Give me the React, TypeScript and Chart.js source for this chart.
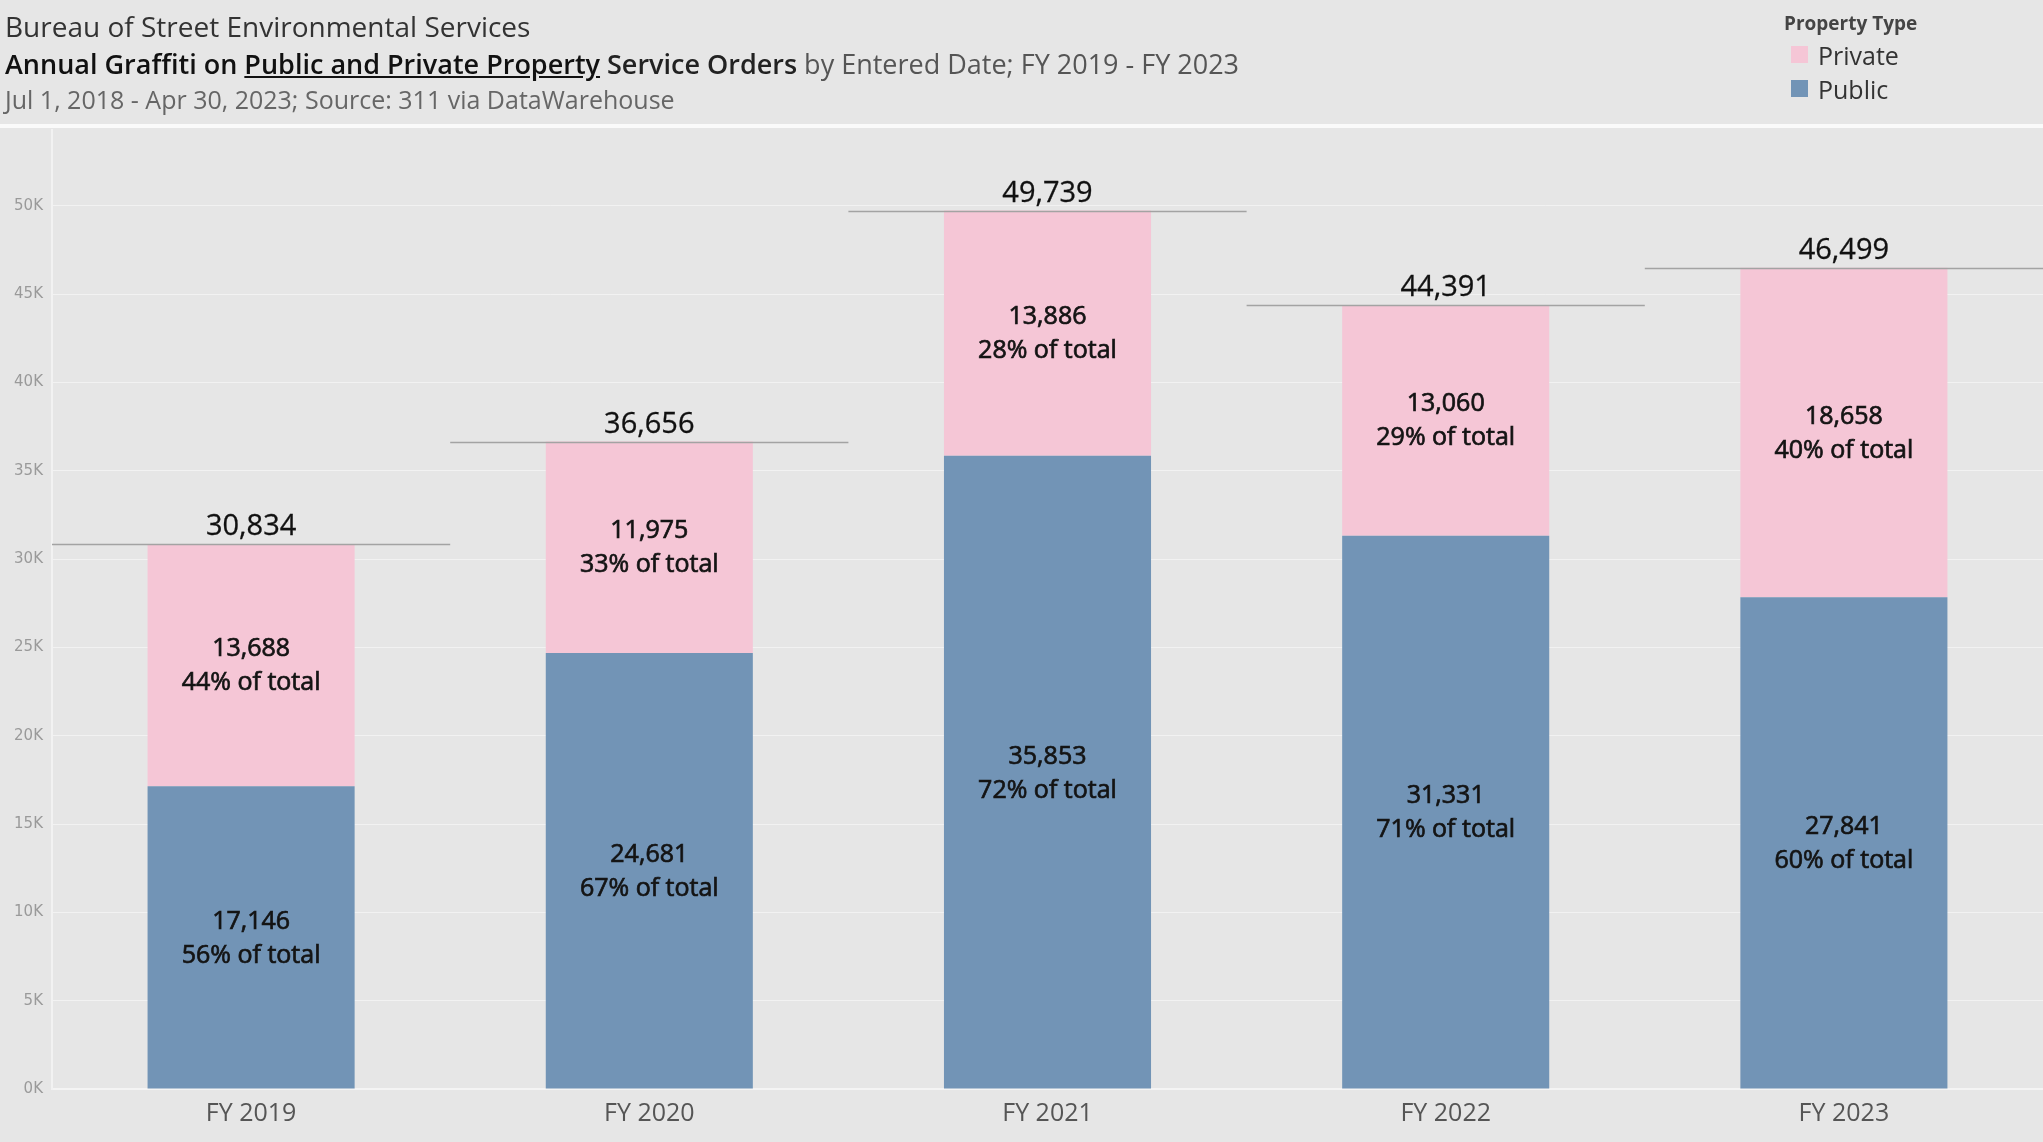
import React, { useEffect, useRef } from "react";
import { Chart, registerables } from "chart.js";

Chart.register(...registerables);

const categories = ["FY 2019", "FY 2020", "FY 2021", "FY 2022", "FY 2023"];
const publicValues = [17146, 24681, 35853, 31331, 27841];
const privateValues = [13688, 11975, 13886, 13060, 18658];
const yTickValues = [0, 5000, 10000, 15000, 20000, 25000, 30000, 35000, 40000, 45000, 50000];

const BG = "#e6e6e6";
const BLUE = "#7294b6";
const PINK = "#f5c6d6";
const LABEL_FONT = "'Open Sans', 'Noto Sans', sans-serif";

const fmt = (v: number) => v.toLocaleString("en-US");

export default function App() {
  const ref = useRef<HTMLCanvasElement | null>(null);

  useEffect(() => {
    document.body.style.margin = "0";
    const canvas = ref.current;
    if (!canvas) return;

    const drawText = (ctx: any, t: string, x: number, y: number, w: number) => {
      ctx.fillText(t, x, y);
      if (w > 0) {
        ctx.lineWidth = w;
        ctx.strokeText(t, x, y);
      }
    };

    const labelPlugin = {
      id: "labelPlugin",
      afterDatasetsDraw(chart: any) {
        const ctx = chart.ctx;
        const x = chart.scales.x;
        const y = chart.scales.y;
        const area = chart.chartArea;
        const catW = area.width / categories.length;
        ctx.save();
        categories.forEach((_, i) => {
          const pub = publicValues[i];
          const pri = privateValues[i];
          const total = pub + pri;
          const cx = x.getPixelForValue(i);
          const ty = Math.round(y.getPixelForValue(total)) + 0.5;
          ctx.strokeStyle = "#a3a3a3";
          ctx.lineWidth = 1.5;
          ctx.beginPath();
          ctx.moveTo(cx - catW / 2, ty);
          ctx.lineTo(cx + catW / 2, ty);
          ctx.stroke();
          ctx.fillStyle = "#111";
          ctx.strokeStyle = "#111";
          ctx.textAlign = "center";
          ctx.textBaseline = "middle";
          ctx.font = `29px ${LABEL_FONT}`;
          drawText(ctx, fmt(total), cx, ty - 18, 0.3);
          ctx.font = `25px ${LABEL_FONT}`;
          ctx.fillStyle = "#141414";
          ctx.strokeStyle = "#141414";
          const pm = y.getPixelForValue(pub / 2);
          drawText(ctx, fmt(pub), cx, pm - 16, 0.7);
          drawText(ctx, `${Math.round((pub / total) * 100)}% of total`, cx, pm + 18, 0.7);
          const vm = y.getPixelForValue(pub + pri / 2);
          drawText(ctx, fmt(pri), cx, vm - 16, 0.7);
          drawText(ctx, `${Math.round((pri / total) * 100)}% of total`, cx, vm + 18, 0.7);
        });
        ctx.restore();
      },
    };

    const chart = new Chart(canvas, {
      type: "bar",
      data: {
        labels: categories,
        datasets: [
          {
            label: "Public",
            data: publicValues,
            backgroundColor: BLUE,
            stack: "s",
            barPercentage: 0.52,
            categoryPercentage: 1,
          },
          {
            label: "Private",
            data: privateValues,
            backgroundColor: PINK,
            stack: "s",
            barPercentage: 0.52,
            categoryPercentage: 1,
          },
        ],
      },
      options: {
        responsive: false,
        animation: false,
        devicePixelRatio: 1,
        layout: { padding: { top: 130, left: 0, right: 0, bottom: 0 } },
        plugins: {
          legend: { display: false },
          tooltip: { enabled: false },
        },
        scales: {
          x: {
            stacked: true,
            grid: { display: false, drawTicks: false },
            border: { display: true, color: "#f4f4f4", width: 2 },
            ticks: {
              color: "#555",
              padding: 10,
              font: { family: LABEL_FONT, size: 25 },
            },
            afterFit: (s: any) => {
              s.height = 53;
            },
          },
          y: {
            stacked: true,
            min: 0,
            max: 54300,
            grid: { color: "#f2f2f2", lineWidth: 1, drawTicks: false },
            border: { display: true, color: "#f2f2f2", width: 2 },
            afterBuildTicks: (s: any) => {
              s.ticks = yTickValues.map((v) => ({ value: v }));
            },
            ticks: {
              color: "#9a9a9a",
              padding: 9,
              font: { family: "'DejaVu Sans', sans-serif", size: 15 },
              callback: (v: any) => `${Number(v) / 1000}K`,
            },
            afterFit: (s: any) => {
              s.width = 52;
            },
          },
        },
      },
      plugins: [labelPlugin],
    });
    return () => chart.destroy();
  }, []);

  const titleFont = "'Open Sans', 'Noto Sans', sans-serif";

  return (
    <div
      style={{
        position: "fixed",
        left: 0,
        top: 0,
        width: 2043,
        height: 1142,
        background: BG,
        overflow: "hidden",
        fontFamily: titleFont,
      }}
    >
      <canvas ref={ref} width={2043} height={1142} style={{ position: "absolute", left: 0, top: 0 }} />
      <div style={{ position: "absolute", left: 0, top: 124, width: 2043, height: 4, background: "#fafafa" }} />
      <div style={{ position: "absolute", left: 5, top: 7, fontSize: 28, color: "#333", whiteSpace: "nowrap", lineHeight: "38px" }}>
        Bureau of Street Environmental Services
      </div>
      <div style={{ position: "absolute", left: 5, top: 45, fontSize: 27, color: "#555", whiteSpace: "nowrap", lineHeight: "38px" }}>
        <span style={{ color: "#111", fontWeight: 600 }}>Annual Graffiti on </span>
        <span style={{ color: "#111", fontWeight: 600, textDecoration: "underline" }}>Public and Private Property</span>
        <span style={{ color: "#222", fontWeight: 600 }}> Service Orders</span>
        <span> by Entered Date; FY 2019 - FY 2023</span>
      </div>
      <div style={{ position: "absolute", left: 5, top: 81, fontSize: 25, color: "#666", whiteSpace: "nowrap", lineHeight: "36px" }}>
        Jul 1, 2018 - Apr 30, 2023; Source: 311 via DataWarehouse
      </div>
      <div style={{ position: "absolute", left: 1784, top: 10, fontSize: 19, fontWeight: 700, color: "#444", whiteSpace: "nowrap", lineHeight: "26px" }}>
        Property Type
      </div>
      <div style={{ position: "absolute", left: 1791, top: 46, width: 17, height: 17, background: PINK }} />
      <div style={{ position: "absolute", left: 1818, top: 38, fontSize: 25, color: "#333", whiteSpace: "nowrap", lineHeight: "34px" }}>
        Private
      </div>
      <div style={{ position: "absolute", left: 1791, top: 80, width: 17, height: 17, background: BLUE }} />
      <div style={{ position: "absolute", left: 1818, top: 72, fontSize: 25, color: "#333", whiteSpace: "nowrap", lineHeight: "34px" }}>
        Public
      </div>
    </div>
  );
}
